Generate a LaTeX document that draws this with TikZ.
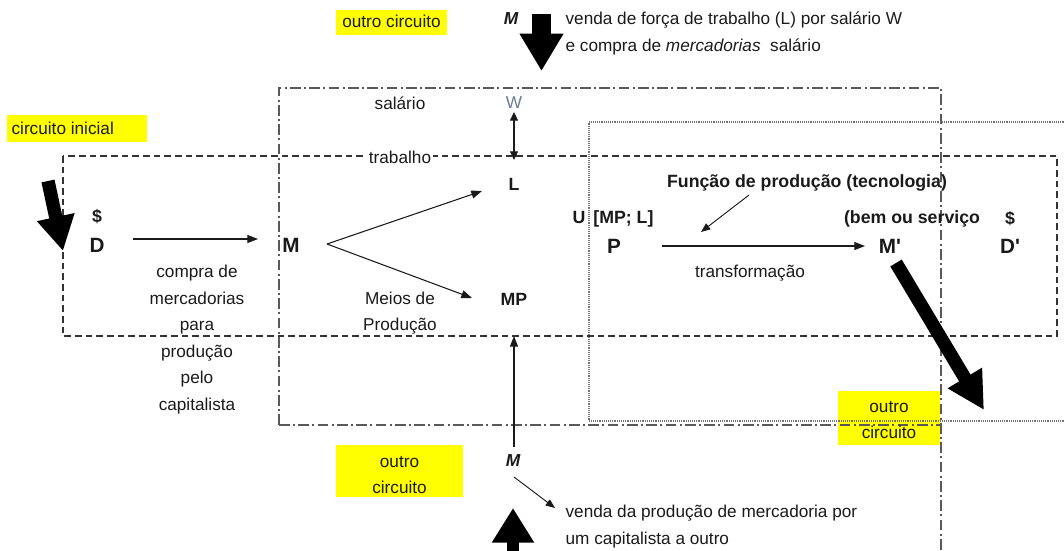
\documentclass[tikz,border=0pt]{standalone}
\usepackage{fontspec}
\setmainfont{Liberation Sans}
\usetikzlibrary{arrows.meta}

\definecolor{ink}{HTML}{1A1A1A}
\definecolor{hilite}{HTML}{FFFF00}
\definecolor{wage}{HTML}{6A7A90}

\tikzset{
  txt/.style={text=ink, inner sep=1pt, font=\fontsize{12.9}{15}\selectfont},
  lbl/.style={text=ink, inner sep=1pt, font=\fontsize{13.3}{15}\selectfont\bfseries},
  big/.style={text=ink, inner sep=1pt, font=\fontsize{15.5}{18}\selectfont\bfseries},
  ybox/.style={fill=hilite, inner sep=0pt},
  thin/.style={draw=ink, line width=0.8pt, -{Triangle[length=8pt,width=6pt]}},
  thinsmall/.style={draw=ink, line width=0.7pt, -{Triangle[length=7pt,width=5.5pt]}},
  dashdotline/.style={draw=black!65, line width=1.1pt, dash pattern=on 8pt off 2.5pt on 1.5pt off 2.5pt},
  dashline/.style={draw=black!80, line width=0.85pt, dash pattern=on 5pt off 3pt},
  dotline/.style={draw=black!55, line width=0.8pt, dash pattern=on 0.7pt off 0.7pt},
}

\begin{document}
\begin{tikzpicture}[x=0.75pt,y=-0.75pt]
\useasboundingbox (0,0) rectangle (1064,550);

% highlighted captions
\node[ybox, minimum width=83.25pt, minimum height=19pt] (capTop) at (391.5,22.5) {};
\fill[hilite] (7,115) rectangle (147,142);
\node[ybox, minimum width=95.25pt, minimum height=39pt] (capBot) at (399.5,471) {};
\node[ybox, minimum width=76.5pt, minimum height=40.5pt] (capRight) at (889,418) {};

% circuit boundaries
\draw[dashdotline] (279,425) -- (279,88) -- (941,88) -- (941,560);
\draw[dashdotline] (279,425) -- (941,425);
\draw[dotline] (1070,122) -- (589,122) -- (589,421) -- (1070,421);
\draw[dashline] (63,156) rectangle (1057,336);

% captions
\node[txt] (tTop) at (391.5,21) {outro circuito};
\node[txt, anchor=west] (tInit) at (10,128) {circuito inicial};
\node[txt, align=center, font=\fontsize{12.9}{19.7}\selectfont] (tBot) at (399.5,475) {outro\\circuito};
\node[txt, align=center, font=\fontsize{12.9}{19.7}\selectfont] (tRight) at (889,420) {outro\\circuito};

% upper market exchange
\node[lbl, font=\fontsize{13}{15}\selectfont\bfseries\itshape] (Mtop) at (511,19) {M};
\node[txt, anchor=west] (venda1) at (564,20) {venda de força de trabalho (L) por salário W};
\node[txt, anchor=west] (venda2) at (564,47) {e compra de \textit{mercadorias}\ \ salário};
\coordinate (topS) at (541.5,14);
\coordinate (topE) at (541.5,71);
\draw[line width=14pt, -{Triangle[length=28pt,width=31pt]}] (topS) -- (topE);

\node[txt] (salario) at (400,103) {salário};
\node[txt, text=wage] (W) at (514,103) {W};
\node[txt, fill=white, inner xsep=1.5pt, inner ysep=0pt] (trabalho) at (400,157) {trabalho};
\node[lbl] (L) at (514,184) {L};
\coordinate (wTop) at (514,112);
\coordinate (lTop) at (514,160);
\draw[draw=ink, line width=0.8pt, {Triangle[length=6.5pt,width=6pt]}-{Triangle[length=6.5pt,width=6pt]}] (wTop) -- (lTop);

% initial circuit
\coordinate (inS) at (48,181);
\coordinate (inE) at (63,251);
\draw[line width=10pt, -{Triangle[length=26pt,width=27pt]}] (inS) -- (inE);
\node[lbl] (dol) at (97,217) {\$};
\node[big] (D) at (97,245) {D};
\node[big] (M) at (291,245) {M};
\coordinate (dmS) at (133,239);
\coordinate (dmE) at (258,239);
\draw[thin] (dmS) -- (dmE);
\node[txt, align=center, font=\fontsize{12.9}{19.9}\selectfont] (compra) at (197,339.5)
  {compra de\\mercadorias\\para\\produção\\pelo\\capitalista};

\node[lbl] (MP) at (514,299) {MP};
\coordinate (fork) at (327,244);
\coordinate (forkL) at (482,191);
\coordinate (forkMP) at (472,298);
\draw[thin] (fork) -- (forkL);
\draw[thin] (fork) -- (forkMP);
\node[txt, align=center, font=\fontsize{12.9}{20}\selectfont] (meios) at (400,313) {Meios de\\Produção};

% lower market exchange
\node[lbl, font=\fontsize{13}{15}\selectfont\bfseries\itshape] (Mbot) at (513,461) {M};
\coordinate (upS) at (514,447);
\coordinate (upE) at (514,336);
\draw[thin] (upS) -- (upE);
\coordinate (smS) at (514,477);
\coordinate (smE) at (555,508);
\draw[thinsmall] (smS) -- (smE);
\node[txt, anchor=west] (venda3) at (564,513) {venda da produção de mercadoria por};
\node[txt, anchor=west] (venda4) at (564,540) {um capitalista a outro};
\coordinate (botS) at (513,600);
\coordinate (botE) at (513,508);
\draw[line width=9pt, -{Triangle[length=26pt,width=30pt]}] (botS) -- (botE);

% production stage
\node[lbl] (func) at (807,183) {Função de produção (tecnologia)};
\node[lbl] (U) at (613,219) {U\hspace{6pt}[MP; L]};
\node[big] (P) at (614,246) {P};
\node[big] (Mp) at (890,246) {M\textquotesingle};
\node[lbl] (bem) at (912,219) {(bem ou serviço};
\node[lbl] (dol2) at (1010,219) {\$};
\node[big] (Dp) at (1010,246) {D\textquotesingle};
\node[txt] (transf) at (750,273) {transformação};
\coordinate (pmS) at (662,246);
\coordinate (pmE) at (865,246);
\draw[thin] (pmS) -- (pmE);
\coordinate (fS) at (749,195);
\coordinate (fE) at (701,232);
\draw[thinsmall] (fS) -- (fE);
\coordinate (outS) at (896,263);
\coordinate (outE) at (984,410);
\draw[line width=10pt, -{Triangle[length=28pt,width=28pt]}] (outS) -- (outE);
\end{tikzpicture}
\end{document}
